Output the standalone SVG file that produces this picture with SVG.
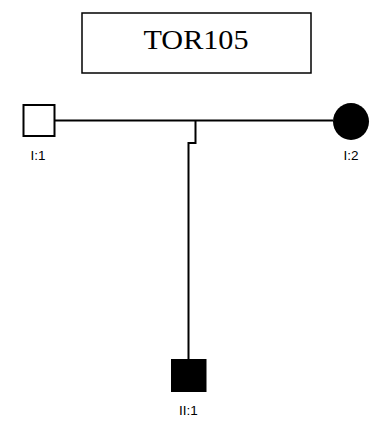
<svg xmlns="http://www.w3.org/2000/svg" width="381" height="427" viewBox="0 0 381 427">
<style>
.lbl{font-family:"Liberation Sans",Arial,sans-serif;font-size:13.5px;fill:#000;text-anchor:middle}
.ln{stroke:#000;stroke-width:2;fill:none}
</style>
<rect width="381" height="427" fill="#fff"/>
<g id="title">
<rect x="82" y="13" width="229" height="60" fill="#fff" stroke="#000" stroke-width="1.5"/>
<text x="196" y="48.5" font-family="'Liberation Serif','Times New Roman',serif" font-size="28" text-anchor="middle" textLength="105" lengthAdjust="spacingAndGlyphs">TOR105</text>
</g>
<g id="connectors">
<path class="ln" d="M55 120.5H333"/>
<path class="ln" d="M195.5 120.5V143H188.5V359"/>
</g>
<g id="I1">
<rect x="23.5" y="105" width="31" height="31" fill="#fff" stroke="#000" stroke-width="2"/>
<text class="lbl" x="38" y="160">I:1</text>
</g>
<g id="I2">
<ellipse cx="351" cy="121.5" rx="18" ry="18.5" fill="#000"/>
<text class="lbl" x="351" y="160">I:2</text>
</g>
<g id="II1">
<rect x="171" y="359" width="35.5" height="33" fill="#000"/>
<text class="lbl" x="188.5" y="415">II:1</text>
</g>
</svg>
